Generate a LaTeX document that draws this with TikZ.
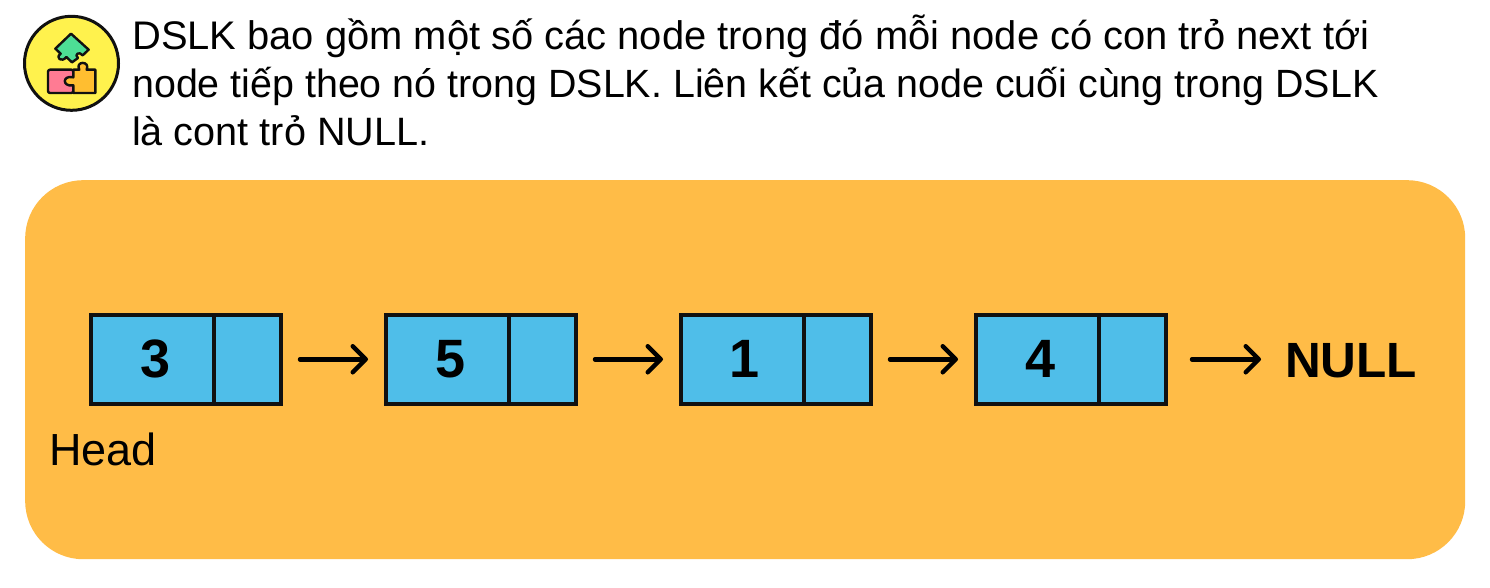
\documentclass[tikz,border=0pt]{standalone}
\usepackage{fontspec}
\setmainfont{Liberation Sans}
\usetikzlibrary{arrows.meta}
\definecolor{panelc}{HTML}{FFBC47}
\definecolor{cellc}{HTML}{4FBEE9}
\definecolor{inkc}{HTML}{111111}
\definecolor{badgec}{HTML}{FFF24D}
\definecolor{greenp}{HTML}{4DDE95}
\definecolor{pinkp}{HTML}{FF7B93}
\definecolor{yellowp}{HTML}{FFBE30}
\tikzset{
 cellbox/.style={draw=inkc,fill=cellc,line width=4pt,minimum height=88.5pt,inner sep=0pt,outer sep=0pt,anchor=north west,font=\fontsize{54}{54}\selectfont\bfseries,text=black},
 valcell/.style={cellbox,minimum width=122.5pt},
 nextcell/.style={cellbox,minimum width=67.5pt},
 linkarrow/.style={draw=black,line width=4.5pt,line cap=round,-{Straight Barb[length=13pt,width=26pt,round]}},
 bodytext/.style={anchor=base west,inner sep=0pt,text=black},
 iconline/.style={draw=inkc,line width=2.4pt,line join=round},
}
\begin{document}
\begin{tikzpicture}[x=1pt,y=-1pt]
\useasboundingbox (0,0) rectangle (1490,587);
\fill[white] (0,0) rectangle (1490,587);
\node[bodytext,font=\fontsize{39.9}{48}\selectfont] (l1) at (132,49) {DSLK bao gồm một số các node trong đó mỗi node có con trỏ next tới};
\node[bodytext,font=\fontsize{39.4}{48}\selectfont] (l2) at (132,97) {node tiếp theo nó trong DSLK. Liên kết của node cuối cùng trong DSLK};
\node[bodytext,font=\fontsize{39.6}{48}\selectfont] (l3) at (132,145) {là cont trỏ NULL.};
\node[fill=panelc,rounded corners=58pt,minimum width=1440pt,minimum height=379pt,inner sep=0pt,anchor=north west] (panel) at (25,180) {};
% icon
\node[circle,draw=inkc,fill=badgec,line width=3pt,minimum size=94pt,inner sep=0pt] (badge) at (71.5,63.3) {};
\begin{scope}[shift={(42,28)},x=0.3333pt,y=-0.3333pt]
 \path[iconline,fill=greenp] (87,17) -- (140,65) -- (122,82) .. controls (112,68) and (95,80) .. (108,90) -- (90,103) -- (73,87) .. controls (60,105) and (38,90) .. (56,77) -- (40,62) -- cycle;
 \path[iconline,fill=pinkp,rounded corners=2pt] (94,125) -- (18,125) -- (18,195) -- (94,195) -- cycle;
 \path[iconline,fill=yellowp] (94,125) -- (112,125) .. controls (98,98) and (146,98) .. (134,125) -- (160,125) -- (160,195) -- (94,195) -- (94,172) .. controls (60,178) and (60,140) .. (94,148) -- cycle;
\end{scope}
% list
\node[valcell] (v1) at (91,315) {\hspace{6pt}3};
\node[nextcell] (n1) at (v1.north east) {};
\node[valcell] (v2) at (386,315) {\hspace{6pt}5};
\node[nextcell] (n2) at (v2.north east) {};
\node[valcell] (v3) at (681,315) {\hspace{4pt}1};
\node[nextcell] (n3) at (v3.north east) {};
\node[valcell] (v4) at (976,315) {\hspace{6pt}4};
\node[nextcell] (n4) at (v4.north east) {};
\node[anchor=base west,inner sep=0pt,font=\fontsize{49.5}{50}\selectfont\bfseries,text=black] (null) at (1285,377) {NULL};
\node[anchor=base west,inner sep=0pt,font=\fontsize{45}{45}\selectfont,text=black] (head) at (49,465) {Head};
\draw[linkarrow,shorten <=19pt,shorten >=18pt] (n1.east) -- (v2.west);
\draw[linkarrow,shorten <=19pt,shorten >=18pt] (n2.east) -- (v3.west);
\draw[linkarrow,shorten <=19pt,shorten >=18pt] (n3.east) -- (v4.west);
\draw[linkarrow,shorten <=26pt,shorten >=24pt] (n4.east) -- (n4.east -| null.west);
\end{tikzpicture}
\end{document}
